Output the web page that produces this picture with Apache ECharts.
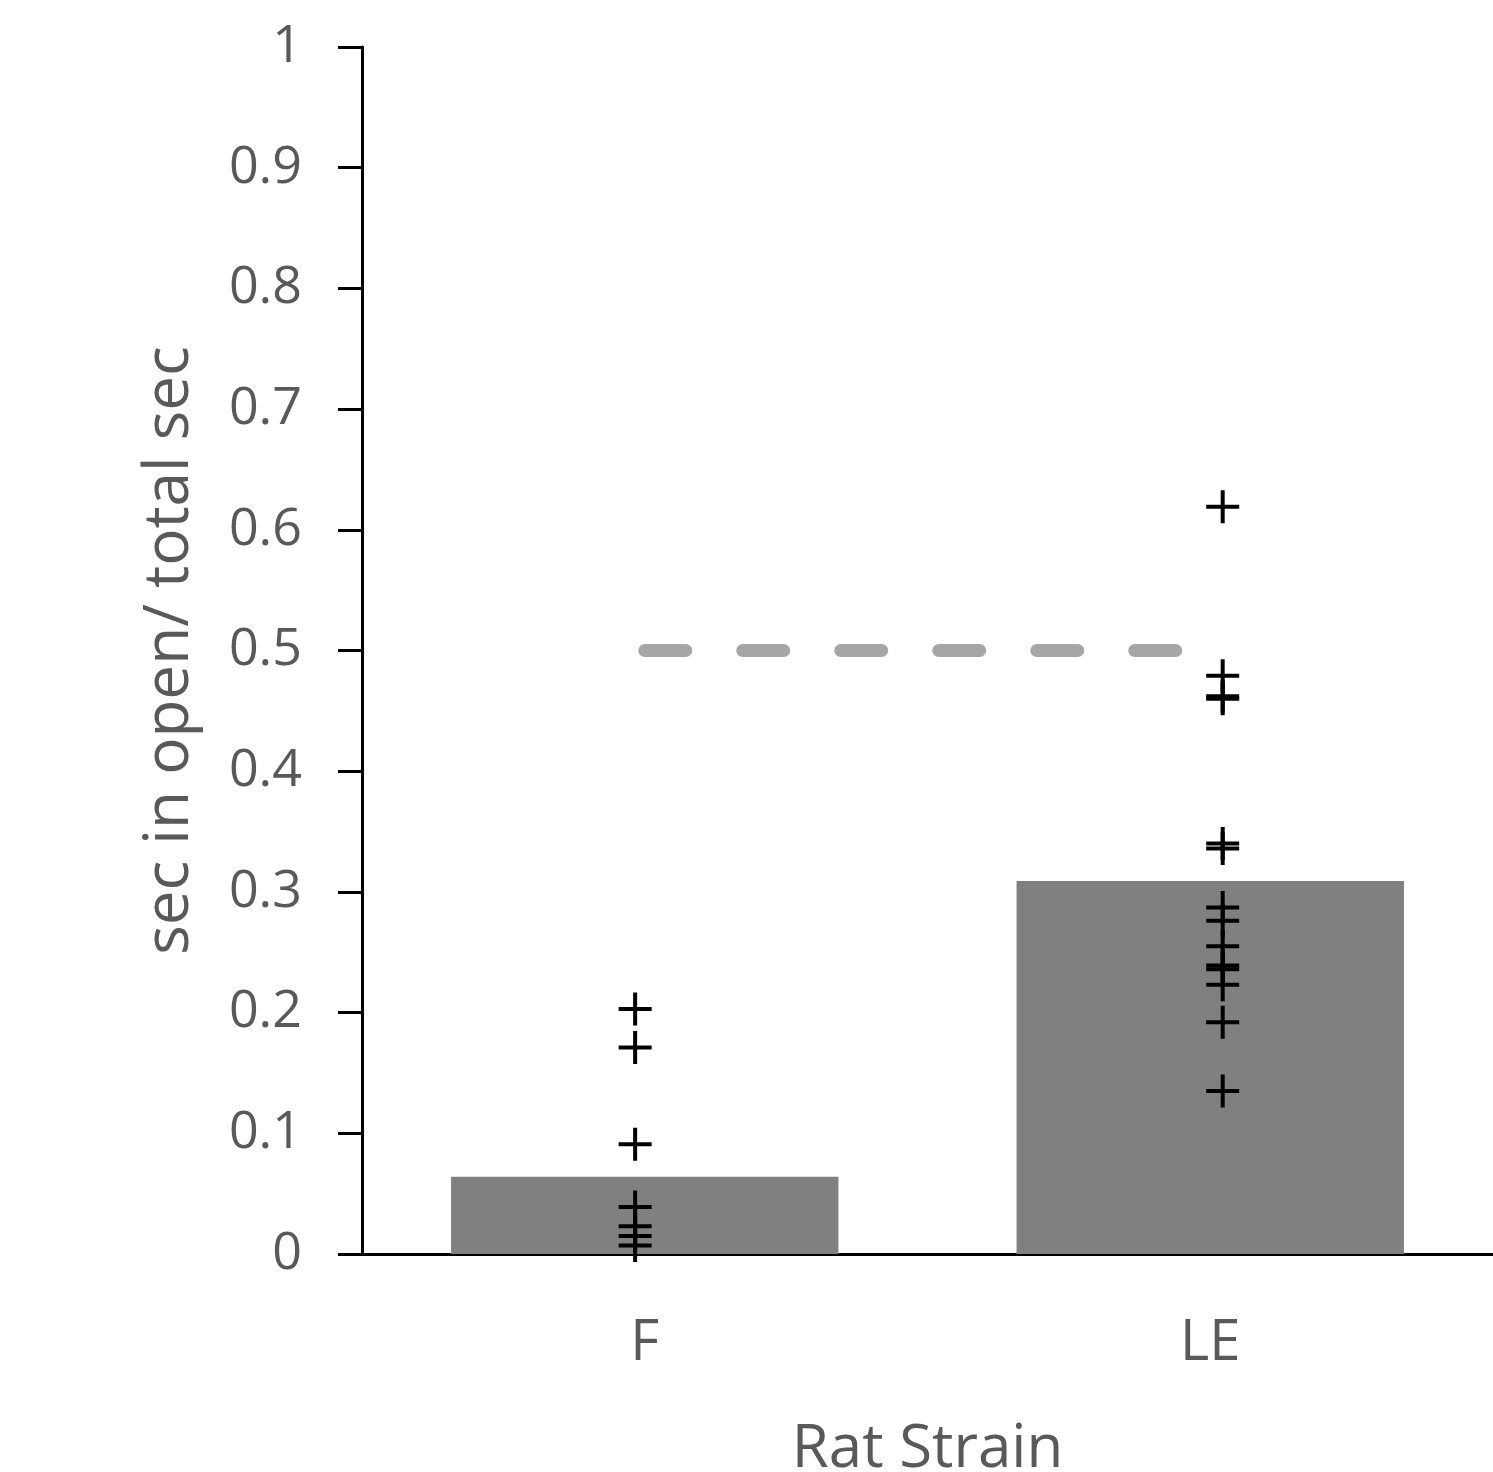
<!DOCTYPE html>
<html><head><meta charset="utf-8">
<script src="https://cdn.jsdelivr.net/npm/echarts@6/dist/echarts.min.js"></script>
<style>html,body{margin:0;padding:0;background:#fff;overflow:hidden}#c{width:1493px;height:1472px}</style>
</head><body><div id="c"></div>
<script>
var categories = ['F', 'LE'];
var barValues = [0.064, 0.309];
var pointsF = [0.203, 0.171, 0.091, 0.039, 0.023, 0.015, 0.007];
var pointsLE = [0.619, 0.479, 0.462, 0.460, 0.340, 0.336, 0.287, 0.276, 0.255, 0.239, 0.236, 0.223, 0.192, 0.135];
var pointX = [0.483, 1.522];
var refLineX = [0.5, 1.44];
var refLineY = 0.5;
var yTicks = [0, 0.1, 0.2, 0.3, 0.4, 0.5, 0.6, 0.7, 0.8, 0.9, 1];

var scatterData = pointsF.map(function (v) { return [pointX[0], v]; })
  .concat(pointsLE.map(function (v) { return [pointX[1], v]; }));
var refData = refLineX.map(function (x) { return [x, refLineY]; });

var font = 'Open Sans';
var chart = echarts.init(document.getElementById('c'));
chart.setOption({
  animation: false,
  backgroundColor: '#fff',
  grid: { left: 362, top: 47, width: 1131, height: 1207, containLabel: false, outerBoundsMode: 'none' },
  xAxis: [{
    type: 'category', data: categories,
    axisLine: { lineStyle: { color: '#000', width: 3 } },
    axisTick: { show: false },
    axisLabel: { color: '#595959', fontSize: 56, fontFamily: font, margin: 62 },
    name: 'Rat Strain', nameLocation: 'middle', nameGap: 166,
    nameTextStyle: { color: '#595959', fontSize: 60, fontFamily: font }
  }, {
    type: 'value', min: 0, max: 2, show: false
  }],
  yAxis: {
    type: 'value', min: 0, max: 1, interval: 0.1,
    splitLine: { show: false },
    axisLine: { show: true, lineStyle: { color: '#000', width: 3 } },
    axisTick: { show: true, inside: false, length: 24, lineStyle: { color: '#000', width: 3 } },
    axisLabel: {
      color: '#595959', fontSize: 52, fontFamily: font, margin: 60,
      formatter: function (v) { var r = Math.round(v * 10) / 10; return yTicks.indexOf(r) >= 0 ? String(r) : ''; }
    },
    name: 'sec in open/ total sec', nameLocation: 'middle', nameGap: 161, nameRotate: 90,
    nameTextStyle: { color: '#595959', fontSize: 62, fontFamily: font }
  },
  series: [{
    type: 'bar', data: barValues, barWidth: '68.5%', xAxisIndex: 0,
    itemStyle: { color: '#808080' }, z: 1
  }, {
    type: 'line', xAxisIndex: 1, data: refData, symbol: 'none', z: 3,
    lineStyle: { color: '#a6a6a6', width: 13, type: [41, 57], cap: 'round' }
  }, {
    type: 'scatter', xAxisIndex: 1, data: scatterData, z: 4,
    symbol: 'path://M-1,0L1,0M0,-1L0,1', symbolSize: 33,
    itemStyle: { color: 'none', borderColor: '#000', borderWidth: 4, opacity: 1 }
  }]
});
</script></body></html>
